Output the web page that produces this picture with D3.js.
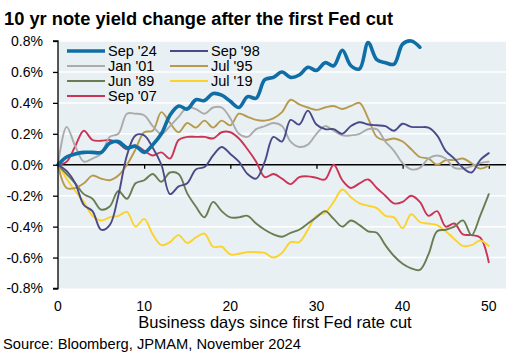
<!DOCTYPE html>
<html><head><meta charset="utf-8">
<script src="https://cdn.jsdelivr.net/npm/d3@7"></script>
<style>body{margin:0;background:#fff}svg{display:block;font-family:"Liberation Sans",Arial,sans-serif}</style>
</head><body><svg id="c" width="517" height="357"></svg>
<script>
const days = d3.range(0, 51);
const sep24 = [0,0.05,0.07,0.08,0.08,0.08,0.14,0.15,0.11,0.12,0.08,0.13,0.20,0.32,0.38,0.36,0.42,0.415,0.46,0.45,0.41,0.37,0.44,0.43,0.55,0.565,0.60,0.565,0.58,0.63,0.61,0.66,0.64,0.74,0.64,0.62,0.79,0.68,0.66,0.65,0.78,0.80,0.76];
const sep98 = [0,-0.04,-0.12,-0.26,-0.3,-0.42,-0.39,-0.2,0.06,0.19,0.19,0.11,0.0,-0.19,-0.14,-0.12,-0.03,-0.015,0.06,0.115,0.07,0.02,-0.06,-0.09,0.02,0.18,0.15,0.29,0.26,0.35,0.26,0.23,0.23,0.20,0.25,0.275,0.26,0.255,0.25,0.22,0.265,0.245,0.243,0.24,0.19,0.09,0.04,-0.02,-0.05,0.03,0.075];
const jan01 = [0,0.245,0.12,0.02,0.04,0.07,0.18,0.2,0.33,0.33,0.32,0.25,0.2,0.25,0.31,0.37,0.36,0.33,0.37,0.37,0.3,0.2,0.18,0.23,0.25,0.27,0.25,0.15,0.115,0.13,0.2,0.25,0.22,0.19,0.19,0.2,0.23,0.23,0.15,0.09,0.01,-0.03,-0.02,0.04,0.06,0.04,-0.02,-0.025,-0.01,0.01,0.02];
const jul95 = [0,-0.15,-0.15,-0.12,-0.07,-0.09,-0.1,-0.07,0.0,0.10,0.21,0.22,0.34,0.27,0.21,0.27,0.24,0.285,0.24,0.285,0.255,0.33,0.31,0.29,0.285,0.3,0.34,0.42,0.39,0.37,0.355,0.37,0.38,0.36,0.38,0.40,0.3,0.18,0.16,0.17,0.15,0.10,0.05,0.04,0.0,0.03,0.03,0.04,0.01,-0.025,-0.005];
const jun89 = [0,-0.06,-0.12,-0.19,-0.22,-0.29,-0.27,-0.17,-0.22,-0.12,-0.1,-0.06,-0.11,-0.05,-0.06,-0.185,-0.27,-0.34,-0.24,-0.3,-0.34,-0.34,-0.33,-0.38,-0.42,-0.45,-0.465,-0.44,-0.42,-0.38,-0.34,-0.30,-0.35,-0.40,-0.36,-0.39,-0.43,-0.44,-0.52,-0.59,-0.64,-0.67,-0.68,-0.58,-0.43,-0.42,-0.40,-0.36,-0.455,-0.33,-0.19];
const jul19 = [0,-0.09,-0.17,-0.24,-0.33,-0.36,-0.34,-0.33,-0.305,-0.40,-0.35,-0.45,-0.52,-0.5,-0.455,-0.505,-0.47,-0.445,-0.53,-0.53,-0.58,-0.575,-0.565,-0.565,-0.57,-0.60,-0.57,-0.50,-0.5,-0.42,-0.33,-0.31,-0.24,-0.16,-0.21,-0.25,-0.265,-0.28,-0.33,-0.34,-0.41,-0.32,-0.37,-0.38,-0.39,-0.43,-0.48,-0.525,-0.52,-0.49,-0.525];
const sep07 = [0,0.02,0.12,0.22,0.16,0.155,0.16,0.14,0.1,0.125,0.09,0.06,0.08,0.04,0.16,0.18,0.18,0.18,0.17,0.21,0.21,0.17,0.10,0.02,-0.08,-0.06,-0.09,-0.125,-0.08,-0.075,-0.085,-0.095,0.0,-0.1,-0.15,-0.12,-0.095,-0.15,-0.2,-0.25,-0.24,-0.2,-0.24,-0.33,-0.3,-0.4,-0.38,-0.45,-0.455,-0.47,-0.63];
const seriesNames = ["Sep '24","Sep '98","Jan '01","Jul '95","Jun '89","Jul '19","Sep '07"];
const seriesColors = ["#0f6ea6","#4b4a86","#ababab","#b79a4c","#6a7d52","#fcd22c","#cc3456"];
const yTicks = [-0.8,-0.6,-0.4,-0.2,0,0.2,0.4,0.6,0.8];
const xTicks = [0,10,20,30,40,50];

const seriesValues = [sep24,sep98,jan01,jul95,jun89,jul19,sep07];
const svg = d3.select("#c");
const x = d3.scaleLinear().domain([0,52]).range([58,506]);
const y = d3.scaleLinear().domain([-0.8,0.8]).range([288.5,41]);

svg.append("rect").attr("x",x(0)).attr("y",y(0.8)).attr("width",x(52)-x(0)).attr("height",y(-0.8)-y(0.8)).attr("fill","#e8f0f4");
svg.append("g").selectAll("line").data(yTicks.filter(t=>t!==0&&t!==-0.8)).join("line")
  .attr("x1",x(0)).attr("x2",x(52)).attr("y1",d=>y(d)).attr("y2",d=>y(d)).attr("stroke","#fff").attr("stroke-width",1.5);

const line = d3.line().x((d,i)=>x(days[i])).y(d=>y(d)).curve(d3.curveCatmullRom.alpha(0.5));
const order = [6,5,4,3,2,1,0];
const xAxis = svg.append("g").attr("transform",`translate(0,${y(0)})`)
  .call(d3.axisBottom(x).tickValues(xTicks).tickSize(4).tickFormat(""));
xAxis.select(".domain").attr("d",`M${x(0)},0H${x(52)}`).attr("stroke","#000").attr("stroke-width",1.5);
xAxis.selectAll(".tick line").attr("stroke","#000").attr("stroke-width",1.3);

order.forEach(k=>{
  svg.append("path").datum(seriesValues[k]).attr("d",line).attr("fill","none")
    .attr("stroke",seriesColors[k]).attr("stroke-width",k===0?3.6:1.9).attr("stroke-linejoin","round").attr("stroke-linecap","round");
});

svg.append("g").selectAll("text").data(xTicks).join("text")
  .attr("x",d=>x(d)).attr("y",311).attr("text-anchor","middle").attr("font-size",14).attr("fill","#000").text(d=>d);

const yAxis = svg.append("g").attr("transform",`translate(${x(0)},0)`)
  .call(d3.axisLeft(y).tickValues(yTicks).tickSize(5).tickPadding(10).tickFormat(d=>d3.format(".1f")(d).replace("−","-")+"%"));
yAxis.select(".domain").attr("d",`M-5,${y(0.8)}H0V${y(-0.8)}H-5`).attr("stroke","#000").attr("stroke-width",1.3);
yAxis.selectAll(".tick line").attr("stroke","#000").attr("stroke-width",1.3);
yAxis.selectAll(".tick text").attr("font-size",14).attr("fill","#000").attr("font-family",null);

svg.append("text").attr("x",4).attr("y",25).attr("font-size",18.3).attr("font-weight","bold").attr("fill","#000")
  .text("10 yr note yield change after the first Fed cut");
svg.append("text").attr("x",275).attr("y",328).attr("text-anchor","middle").attr("font-size",16.5).attr("fill","#000")
  .text("Business days since first Fed rate cut");
svg.append("text").attr("x",3).attr("y",349).attr("font-size",14.7).attr("fill","#000")
  .text("Source: Bloomberg, JPMAM, November 2024");

const legPos = [[0,0],[1,0],[0,1],[1,1],[0,2],[1,2],[0,3]];
const lg = svg.append("g");
seriesNames.forEach((n,i)=>{
  const cx = legPos[i][0]===0?67:170, cy = 51+legPos[i][1]*15;
  lg.append("line").attr("x1",cx).attr("x2",cx+38).attr("y1",cy).attr("y2",cy)
    .attr("stroke",seriesColors[i]).attr("stroke-width",i===0?3.6:1.9);
  lg.append("text").attr("x",cx+41).attr("y",cy+5).attr("font-size",14.5).attr("fill","#000").text(n);
});
</script></body></html>
